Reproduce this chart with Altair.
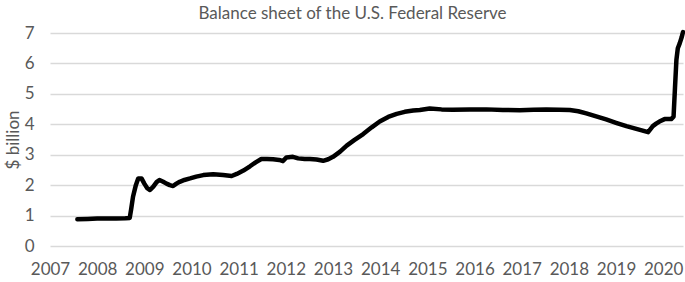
import altair as alt
import pandas as pd

# decimal year and value
years = [2007.58, 2007.8, 2008.0, 2008.2, 2008.4, 2008.6, 2008.69, 2008.72, 2008.76, 2008.82, 2008.87, 2008.94,
         2009.0, 2009.06, 2009.12, 2009.19, 2009.26, 2009.32, 2009.40, 2009.47, 2009.54, 2009.61, 2009.68, 2009.75,
         2009.85, 2009.97, 2010.1, 2010.25, 2010.46, 2010.67, 2010.85, 2010.96, 2011.10, 2011.24, 2011.36, 2011.48,
         2011.6, 2011.73, 2011.86, 2011.94, 2012.01, 2012.15, 2012.26, 2012.4, 2012.51, 2012.65, 2012.79, 2012.9,
         2013.00, 2013.15, 2013.29, 2013.45, 2013.64, 2013.82, 2013.99, 2014.17, 2014.35, 2014.52, 2014.70, 2014.84,
         2015.05, 2015.3, 2015.54, 2015.9, 2016.25, 2016.6, 2016.96, 2017.25, 2017.52, 2017.8, 2018.02, 2018.2,
         2018.37, 2018.58, 2018.79, 2019.0, 2019.22, 2019.45, 2019.68, 2019.73, 2019.78, 2019.85, 2019.92, 2020.03,
         2020.17, 2020.22, 2020.25, 2020.28, 2020.31, 2020.35, 2020.39, 2020.42]
values = [0.88, 0.89, 0.90, 0.90, 0.90, 0.91, 0.92, 1.20, 1.62, 2.00, 2.22, 2.22,
          2.05, 1.90, 1.84, 1.95, 2.10, 2.17, 2.11, 2.05, 2.00, 1.97, 2.05, 2.11,
          2.17, 2.22, 2.28, 2.33, 2.36, 2.33, 2.30, 2.37, 2.48, 2.62, 2.75, 2.86,
          2.86, 2.85, 2.83, 2.79, 2.91, 2.93, 2.88, 2.86, 2.86, 2.84, 2.80, 2.85,
          2.93, 3.10, 3.30, 3.48, 3.68, 3.90, 4.09, 4.24, 4.34, 4.41, 4.45, 4.47,
          4.52, 4.49, 4.48, 4.49, 4.49, 4.47, 4.46, 4.48, 4.49, 4.48, 4.47, 4.43,
          4.36, 4.26, 4.16, 4.05, 3.94, 3.84, 3.74, 3.84, 3.94, 4.02, 4.09, 4.17,
          4.17, 4.25, 5.20, 6.11, 6.50, 6.66, 6.85, 7.03]

tick_years = list(range(2007, 2021))
y_ticks = list(range(0, 8))

df = pd.DataFrame({"year": years, "value": values})

GRAY = "#595959"
FONT = "Lato"

chart = alt.Chart(df).mark_line(color="black", strokeWidth=4.5, strokeJoin="round", strokeCap="round").encode(
    x=alt.X("year:Q",
            scale=alt.Scale(domain=[2007, 2020.42], nice=False, zero=False),
            axis=alt.Axis(values=tick_years, format="d", title=None, grid=False, domain=False, ticks=False,
                          labelFont=FONT, labelFontSize=17, labelColor=GRAY, labelPadding=15,
                          labelFlush=False, labelOverlap=False)),
    y=alt.Y("value:Q",
            scale=alt.Scale(domain=[0, 7], nice=False),
            axis=alt.Axis(values=y_ticks, title="$ billion", grid=True, gridColor="#d9d9d9", gridWidth=1.5,
                          domain=False, ticks=False,
                          labelFont=FONT, labelFontSize=17, labelColor=GRAY, labelPadding=16,
                          titleFont=FONT, titleFontSize=17, titleColor=GRAY, titleFontWeight="normal",
                          titlePadding=2)),
).properties(
    width=633,
    height=213,
    title=alt.TitleParams("Balance sheet of the U.S. Federal Reserve", font=FONT, fontSize=17,
                          fontWeight="normal", color=GRAY, anchor="middle", dx=-14, offset=1),
    autosize=alt.AutoSizeParams(type="none"),
    padding={"left": 50, "top": 33, "right": 2, "bottom": 36},
).configure_view(stroke=None)

chart.save("out.html", embed_options={"renderer": "svg", "actions": False})
